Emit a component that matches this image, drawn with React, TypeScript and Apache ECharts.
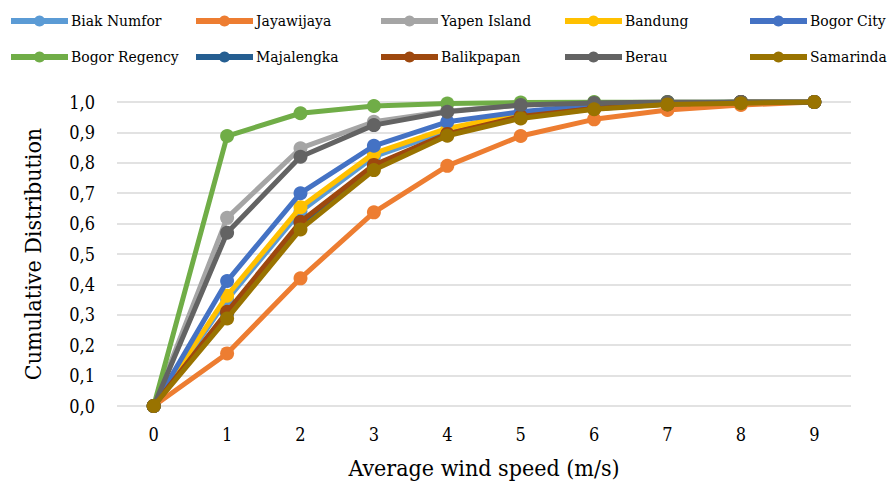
import React, { useEffect, useRef } from "react";
import * as echarts from "echarts";

const categories = ["0", "1", "2", "3", "4", "5", "6", "7", "8", "9"];
const seriesNames = [
  "Biak Numfor", "Jayawijaya", "Yapen Island", "Bandung", "Bogor City",
  "Bogor Regency", "Majalengka", "Balikpapan", "Berau", "Samarinda",
];
const colors = [
  "#5B9BD5", "#ED7D31", "#A5A5A5", "#FFC000", "#4472C4",
  "#70AD47", "#255E91", "#9E480E", "#636363", "#997300",
];
const biakNumfor = [0, 0.35, 0.64, 0.82, 0.905, 0.96, 0.985, 0.995, 1, 1];
const jayawijaya = [0, 0.173, 0.42, 0.637, 0.79, 0.888, 0.943, 0.974, 0.99, 1];
const yapenIsland = [0, 0.619, 0.848, 0.935, 0.97, 0.99, 0.997, 1, 1, 1];
const bandung = [0, 0.363, 0.654, 0.831, 0.913, 0.962, 0.985, 0.995, 1, 1];
const bogorCity = [0, 0.411, 0.7, 0.856, 0.935, 0.968, 0.99, 0.997, 1, 1];
const bogorRegency = [0, 0.888, 0.963, 0.987, 0.995, 0.998, 1, 1, 1, 1];
const majalengka = [0, 0.305, 0.6, 0.79, 0.893, 0.95, 0.978, 0.993, 1, 1];
const balikpapan = [0, 0.31, 0.606, 0.793, 0.895, 0.952, 0.979, 0.993, 1, 1];
const berau = [0, 0.57, 0.82, 0.924, 0.968, 0.99, 0.997, 1, 1, 1];
const samarinda = [0, 0.288, 0.581, 0.776, 0.889, 0.946, 0.976, 0.992, 0.996, 1];
const yTicks = [0, 0.1, 0.2, 0.3, 0.4, 0.5, 0.6, 0.7, 0.8, 0.9, 1.0];

const allData = [
  biakNumfor, jayawijaya, yapenIsland, bandung, bogorCity,
  bogorRegency, majalengka, balikpapan, berau, samarinda,
];

const FONT = "DejaVu Serif Condensed";

export default function App() {
  const ref = useRef<HTMLDivElement>(null);
  useEffect(() => {
    if (!ref.current) return;
    const chart = echarts.init(ref.current, undefined, { renderer: "svg" });
    const colX = [8, 193, 378, 562, 747];
    const rowY = [13, 49];
    const legends = seriesNames.map((name, i) => ({
      data: [name],
      left: colX[i % 5],
      top: rowY[Math.floor(i / 5)],
      itemWidth: 57,
      itemHeight: 14,
      itemGap: 3,
      padding: 0,
      lineStyle: { width: 6 },
      textStyle: { fontFamily: FONT, fontSize: 15.5, color: "#000", padding: [0, 0, 0, -2] },
    }));
    chart.setOption({
      animation: false,
      color: colors,
      textStyle: { fontFamily: FONT },
      legend: legends,
      grid: { left: 117, right: 38, top: 102, bottom: 80, containLabel: false },
      xAxis: {
        type: "category",
        data: categories,
        boundaryGap: true,
        name: "Average wind speed (m/s)",
        nameLocation: "middle",
        nameGap: 50,
        nameTextStyle: { fontFamily: FONT, fontSize: 23, color: "#000" },
        axisLine: { show: false },
        axisTick: { show: false },
        axisLabel: { fontFamily: FONT, fontSize: 18, color: "#000", margin: 19 },
      },
      yAxis: {
        type: "value",
        min: 0,
        max: 1,
        interval: 0.1,
        name: "Cumulative Distribution",
        nameLocation: "middle",
        nameGap: 73,
        nameTextStyle: { fontFamily: FONT, fontSize: 23, color: "#000" },
        axisLine: { show: false },
        axisTick: { show: false },
        axisLabel: {
          fontFamily: FONT,
          fontSize: 18,
          color: "#000",
          margin: 22,
          formatter: (v: number) => {
            const t = yTicks.find((k) => Math.abs(k - v) < 1e-6);
            return (t !== undefined ? t : v).toFixed(1).replace(".", ",");
          },
        },
        splitLine: { lineStyle: { color: "#D9D9D9", width: 1.5 } },
      },
      series: seriesNames.map((name, i) => ({
        name,
        type: "line",
        data: allData[i],
        symbol: "circle",
        symbolSize: 14,
        lineStyle: { width: 5, color: colors[i] },
        itemStyle: { color: colors[i] },
        z: 2 + i,
      })),
    });
    return () => chart.dispose();
  }, []);
  return <div ref={ref} style={{ width: 889, height: 486, position: "absolute", left: 0, top: 0 }} />;
}
